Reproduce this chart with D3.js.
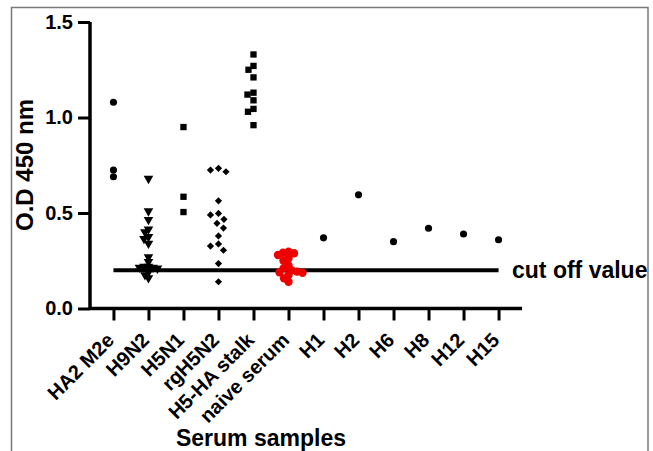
<!DOCTYPE html>
<html>
<head>
<meta charset="utf-8">
<script src="https://cdnjs.cloudflare.com/ajax/libs/d3/7.8.5/d3.min.js"></script>
<style>
  html, body { margin: 0; padding: 0; background: #fff; }
  svg { display: block; font-family: Arial, "Liberation Sans", sans-serif; }
</style>
</head>
<body>
<div id="chart"></div>
<script>
// 类别
const categories = ['HA2 M2e', 'H9N2', 'H5N1', 'rgH5N2', 'H5-HA stalk', 'naive serum',
    'H1', 'H2', 'H6', 'H8', 'H12', 'H15'];

// 各组 O.D 450 nm 数值
const ha2M2e = [1.08, 0.725, 0.69];
const h9n2 = [0.68, 0.51, 0.465, 0.415, 0.40, 0.375, 0.365, 0.34, 0.27, 0.245,
    0.22, 0.215, 0.21, 0.215, 0.22, 0.19, 0.175, 0.16];
const h5n1 = [0.95, 0.585, 0.505];
const rgH5n2 = [0.734, 0.725, 0.716, 0.564, 0.498, 0.49, 0.467, 0.446, 0.421,
    0.38, 0.338, 0.327, 0.305, 0.235, 0.14];
const h5haStalk = [1.33, 1.27, 1.25, 1.21, 1.13, 1.12, 1.09, 1.045, 1.03, 0.96];
const naiveSerum = [0.297, 0.292, 0.289, 0.28, 0.263, 0.25, 0.225, 0.21, 0.2,
    0.193, 0.19, 0.187, 0.175, 0.158, 0.14];
const h1 = [0.37];
const h2 = [0.595];
const h6 = [0.35];
const h8 = [0.42];
const h12 = [0.39];
const h15 = [0.36];

const cutOff = 0.2;
const yTicks = [0, 0.5, 1.0, 1.5];

const groupValues = [ha2M2e, h9n2, h5n1, rgH5n2, h5haStalk, naiveSerum, h1, h2, h6, h8, h12, h15];

// 样式（符号、大小、颜色、散点间距）
const groupStyle = [
    { symbol: 'circle', size: 40, color: '#000', gap: 6 },
    { symbol: 'triangleDown', size: 40, color: '#000', gap: 4.5 },
    { symbol: 'square', size: 40, color: '#000', gap: 6 },
    { symbol: 'diamond', size: 26, color: '#000', gap: 8 },
    { symbol: 'square', size: 40, color: '#000', gap: 6 },
    { symbol: 'circle', size: 55, color: '#ee0000', gap: 5.5 },
    { symbol: 'circle', size: 40, color: '#000', gap: 6 },
    { symbol: 'circle', size: 40, color: '#000', gap: 6 },
    { symbol: 'circle', size: 40, color: '#000', gap: 6 },
    { symbol: 'circle', size: 40, color: '#000', gap: 6 },
    { symbol: 'circle', size: 40, color: '#000', gap: 6 },
    { symbol: 'circle', size: 40, color: '#000', gap: 6 }
];

const width = 653, height = 451;
const svg = d3.select('#chart').append('svg')
    .attr('width', width)
    .attr('height', height);

// 外框
svg.append('rect')
    .attr('x', 11.5).attr('y', 7.5)
    .attr('width', 636.5).attr('height', 470)
    .attr('fill', 'none')
    .attr('stroke', '#7a7a7a')
    .attr('stroke-width', 1.5);

const x = d3.scalePoint()
    .domain(categories)
    .range([90, 522])
    .padding(0.67);

const y = d3.scaleLinear()
    .domain([0, 1.5])
    .range([308.5, 22]);

// y 轴
const yAxis = svg.append('g')
    .attr('transform', 'translate(90,0)')
    .call(d3.axisLeft(y).tickValues(yTicks).tickFormat(d3.format('.1f')).tickSize(12).tickPadding(5));
yAxis.select('.domain').attr('stroke-width', 3.5).attr('d', `M0,${y(0)}V${y(1.5)}`);
yAxis.selectAll('.tick line').attr('stroke-width', 3);
yAxis.selectAll('.tick text')
    .style('font-size', '20px')
    .style('font-weight', 'bold')
    .attr('fill', '#000');

// x 轴
const xAxis = svg.append('g')
    .attr('transform', `translate(0,${y(0)})`)
    .call(d3.axisBottom(x).tickSize(12).tickSizeOuter(0).tickFormat(''));
xAxis.select('.domain').attr('stroke-width', 3.5).attr('d', 'M90,0H522');
xAxis.selectAll('.tick line').attr('stroke-width', 3);

// x 轴标签（旋转 45°）
svg.append('g')
    .selectAll('text')
    .data(categories)
    .join('text')
    .attr('text-anchor', 'end')
    .attr('transform', d => `translate(${x(d) + 2},${y(0) + 33}) rotate(-45)`)
    .style('font-size', '20px')
    .style('font-weight', 'bold')
    .attr('fill', '#000')
    .text(d => d);

// 轴标题
svg.append('text')
    .attr('transform', 'translate(33,165) rotate(-90)')
    .attr('text-anchor', 'middle')
    .style('font-size', '24px')
    .style('font-weight', 'bold')
    .text('O.D 450 nm');

svg.append('text')
    .attr('x', 261).attr('y', 446)
    .attr('text-anchor', 'middle')
    .style('font-size', '23px')
    .style('font-weight', 'bold')
    .text('Serum samples');

// 简单蜂群布局：按数值排序，就近放置，避免重叠
function beeswarm(values, gap) {
    const order = values.map((v, i) => i).sort((a, b) => values[b] - values[a]);
    const placed = [];
    const offsets = new Array(values.length).fill(0);
    order.forEach(i => {
        const py = y(values[i]);
        let best = 0;
        for (let k = 0; k < 200; k++) {
            const cand = (k % 2 === 0 ? 1 : -1) * Math.ceil(k / 2) * 0.5;
            const hit = placed.some(p => {
                const dx = p.x - cand, dy = p.y - py;
                return dx * dx + dy * dy < gap * gap;
            });
            if (!hit) { best = cand; break; }
        }
        placed.push({ x: best, y: py });
        offsets[i] = best;
    });
    return offsets;
}

function symbolPath(name, size) {
    if (name === 'circle') return d3.symbol(d3.symbolCircle, size)();
    if (name === 'square') return d3.symbol(d3.symbolSquare, size)();
    if (name === 'diamond') return d3.symbol(d3.symbolSquare, size)();
    return d3.symbol(d3.symbolTriangle, size)();
}

function symbolRotation(name) {
    if (name === 'diamond') return 45;
    if (name === 'triangleDown') return 180;
    return 0;
}

// 截断线
svg.append('line')
    .attr('x1', x(categories[0])).attr('x2', x(categories[categories.length - 1]))
    .attr('y1', y(cutOff)).attr('y2', y(cutOff))
    .attr('stroke', '#000')
    .attr('stroke-width', 4);

svg.append('text')
    .attr('x', 512).attr('y', y(cutOff) + 8)
    .style('font-size', '23px')
    .style('font-weight', 'bold')
    .text('cut off value');

// 数据点
const pointLayer = svg.append('g').attr('class', 'points');
categories.forEach((cat, gi) => {
    const vals = groupValues[gi];
    const st = groupStyle[gi];
    const offs = beeswarm(vals, st.gap);
    pointLayer.append('g')
        .selectAll('path')
        .data(vals.map((v, i) => ({ v, dx: offs[i] })))
        .join('path')
        .attr('d', symbolPath(st.symbol, st.size))
        .attr('transform', d => `translate(${x(cat) + d.dx},${y(d.v)}) rotate(${symbolRotation(st.symbol)})`)
        .attr('fill', st.color);
});
</script>
</body>
</html>
